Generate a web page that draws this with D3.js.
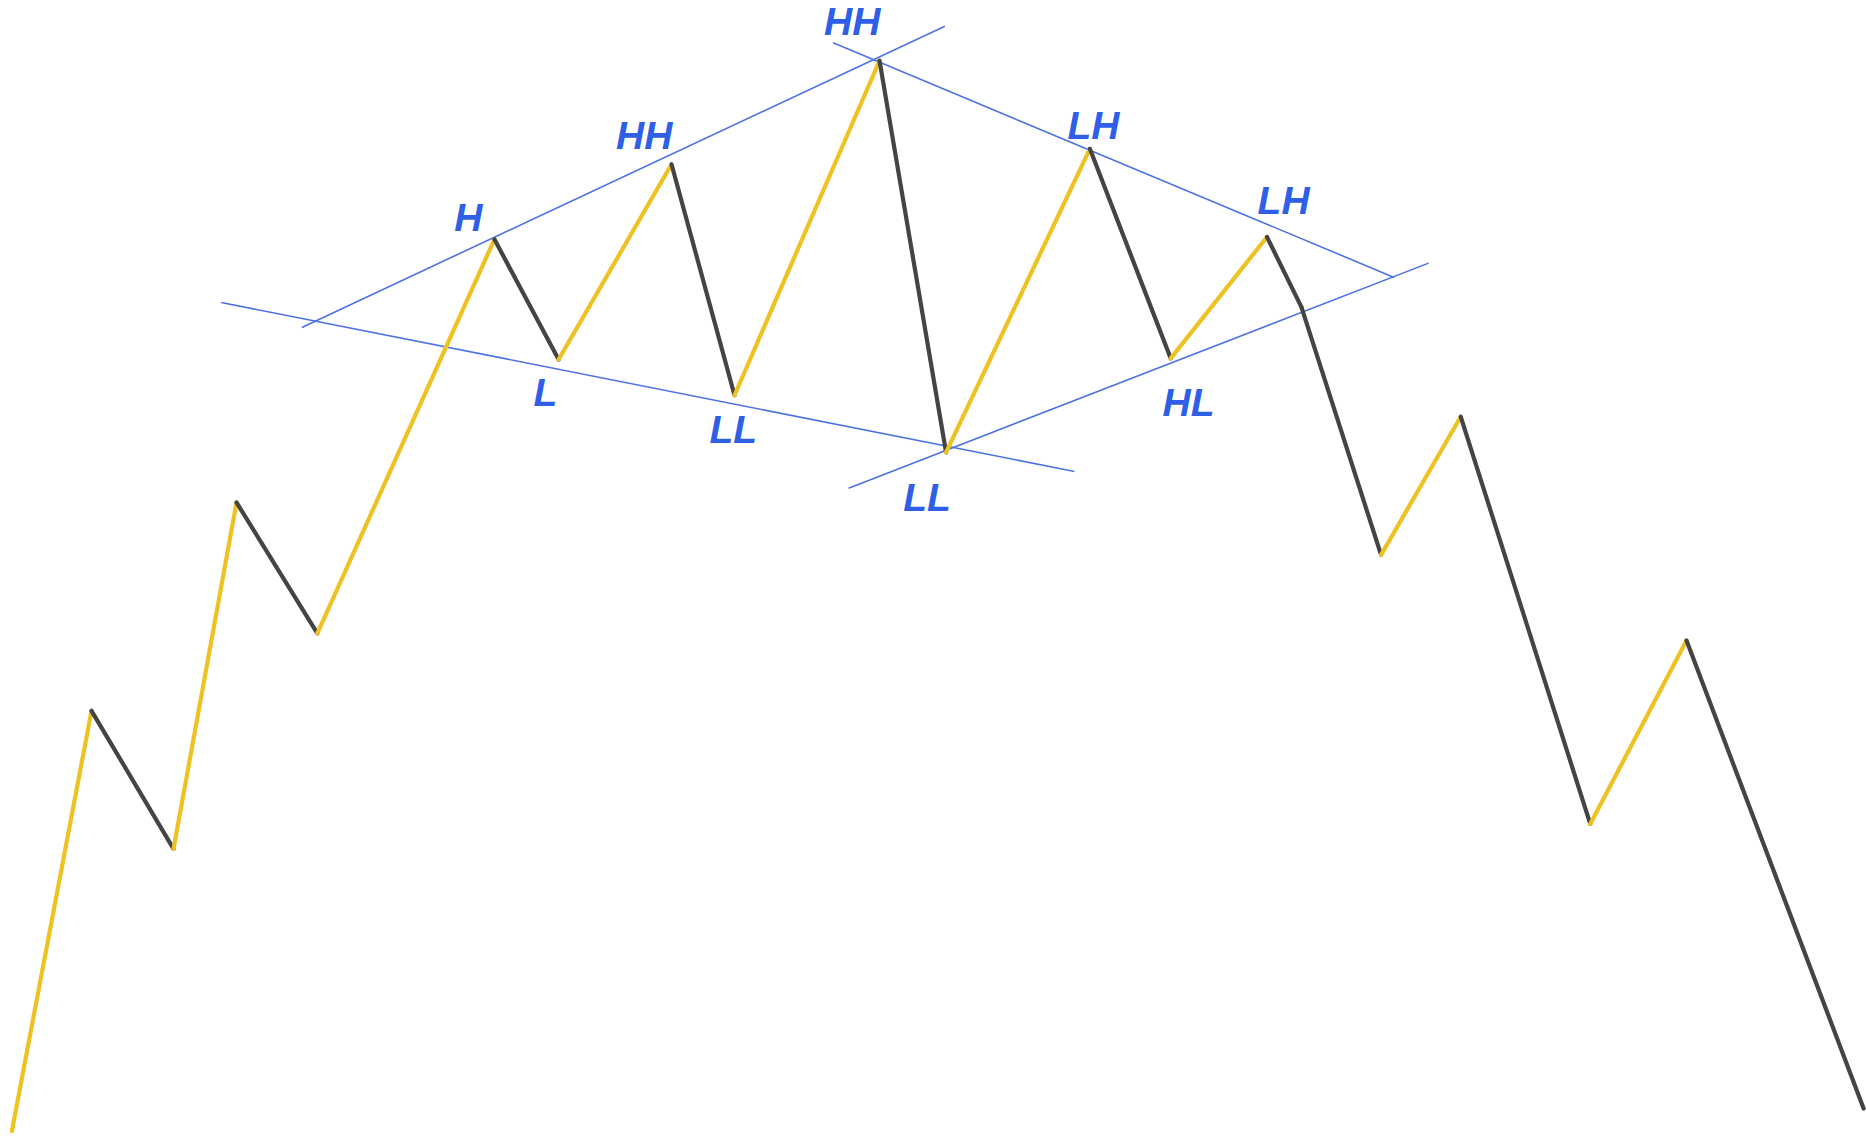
<!DOCTYPE html>
<html>
<head>
<meta charset="utf-8">
<script src="https://cdn.jsdelivr.net/npm/d3@7"></script>
<style>
  html, body { margin: 0; padding: 0; background: #ffffff; overflow: hidden; }
</style>
</head>
<body>
<svg id="chart"></svg>
<script>
// Swing pivots: time index and price
var pivotTime  = [1.0, 7.7, 14.6, 19.9, 26.7, 41.6, 47.0, 56.5, 61.8, 74.0, 79.6, 91.7, 98.5, 106.6, 109.5, 116.2, 122.9, 133.8, 141.9, 156.8];
var pivotPrice = [1.0, 36.3, 24.7, 53.8, 42.8, 75.9, 65.8, 82.2, 62.8, 90.9, 58.0, 83.5, 65.9, 76.1, 70.2, 49.4, 61.0, 26.8, 42.2, 2.9];

// Trendlines: [t1, p1, t2, p2]
var trendNames = ["upperLeft", "lowerLeft", "upperRight", "lowerRight"];
var trendStart = [[25.4, 68.5], [18.6, 70.6], [70.1, 92.4], [71.4, 55.0]];
var trendEnd   = [[79.5, 93.8], [90.4, 56.4], [117.3, 72.7], [120.2, 73.9]];

// Swing labels
var labelText  = ["H", "L", "HH", "LL", "HH", "LL", "LH", "HL", "LH"];
var labelTime  = [39.4, 45.9, 54.2, 61.7, 71.7, 78.0, 92.0, 100.0, 108.0];
var labelPrice = [77.7, 63.0, 84.6, 59.9, 94.2, 54.2, 85.5, 62.2, 79.2];

var dimensions = { width: 1866, height: 1143 };

var svg = d3.select("#chart")
    .attr("width", dimensions.width)
    .attr("height", dimensions.height);

var xScale = d3.scaleLinear().domain([0, 157]).range([0, dimensions.width]);
var yScale = d3.scaleLinear().domain([0, 96]).range([dimensions.height, 0]);

// build segments between consecutive pivots
var segments = d3.pairs(d3.range(pivotTime.length)).map(function(p) {
    return {
        x1: pivotTime[p[0]], y1: pivotPrice[p[0]],
        x2: pivotTime[p[1]], y2: pivotPrice[p[1]]
    };
});

// trendlines first so the price path sits on top
svg.append("g").selectAll("line")
    .data(trendNames)
    .enter()
    .append("line")
    .attr("x1", function(d, i) { return xScale(trendStart[i][0]); })
    .attr("y1", function(d, i) { return yScale(trendStart[i][1]); })
    .attr("x2", function(d, i) { return xScale(trendEnd[i][0]); })
    .attr("y2", function(d, i) { return yScale(trendEnd[i][1]); })
    .attr("stroke", "#4d72e3")
    .attr("stroke-width", 1.6);

svg.append("g").selectAll("line")
    .data(segments)
    .enter()
    .append("line")
    .attr("x1", function(d) { return xScale(d.x1); })
    .attr("y1", function(d) { return yScale(d.y1); })
    .attr("x2", function(d) { return xScale(d.x2); })
    .attr("y2", function(d) { return yScale(d.y2); })
    .attr("stroke", function(d) { return d.y2 > d.y1 ? "#efc223" : "#444444"; }) // up = yellow, down = dark
    .attr("stroke-width", 4.2)
    .attr("stroke-linecap", "round");

svg.append("g").selectAll("text")
    .data(labelText)
    .enter()
    .append("text")
    .attr("x", function(d, i) { return xScale(labelTime[i]); })
    .attr("y", function(d, i) { return yScale(labelPrice[i]); })
    .attr("text-anchor", "middle")
    .attr("dominant-baseline", "central")
    .style("font-family", "'Liberation Sans', Arial, sans-serif")
    .style("font-weight", "bold")
    .style("font-style", "italic")
    .style("font-size", "39px")
    .style("fill", "#2f5fe6")
    .text(function(d) { return d; });
</script>
</body>
</html>
